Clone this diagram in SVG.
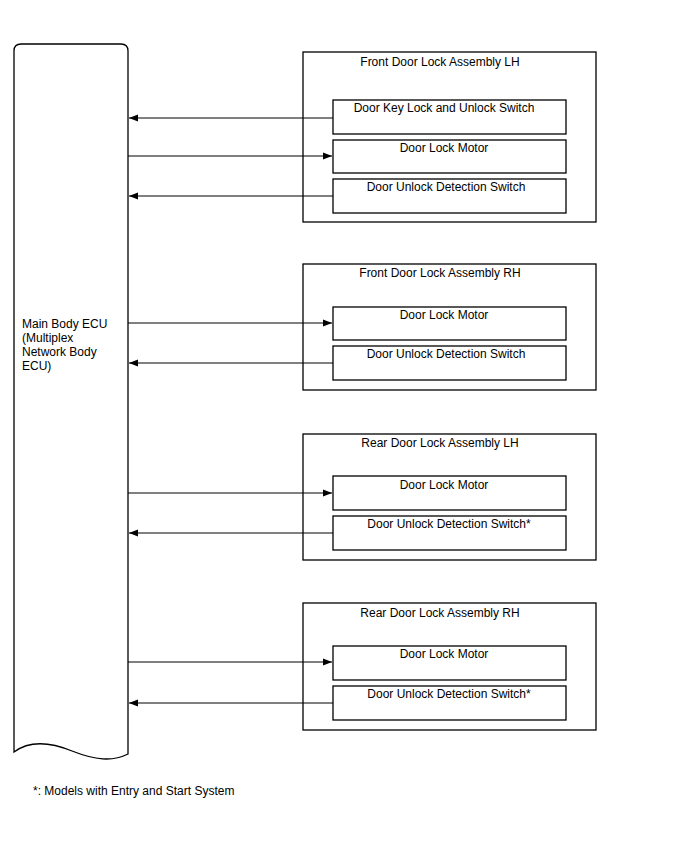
<svg xmlns="http://www.w3.org/2000/svg" width="688" height="852" viewBox="0 0 688 852">
<defs>
<marker id="ah" markerWidth="10" markerHeight="8" refX="9" refY="4" orient="auto" markerUnits="userSpaceOnUse">
<path d="M0,0.5 L9,4 L0,7.5 Z" fill="#000"/>
</marker>
<style>
.box{fill:#fff;stroke:#000;stroke-width:1.3}
.t{font-family:"Liberation Sans",Arial,sans-serif;font-size:12px;fill:#000}
.c{text-anchor:middle}
.ln{stroke:#000;stroke-width:1;fill:none}
</style>
</defs>
<rect width="688" height="852" fill="#fff"/>
<g id="ecu">
<path class="box" d="M14,752 L14,51 Q14,44 21,44 L121,44 Q128,44 128,51 L128,754 C112,762 95,760 72,751 C50,742 30,740 14,752 Z"/>
<text class="t" x="22" y="328">Main Body ECU</text>
<text class="t" x="22" y="342">(Multiplex</text>
<text class="t" x="22" y="356">Network Body</text>
<text class="t" x="22" y="370">ECU)</text>
</g>
<g id="front-lh">
<rect class="box" x="303" y="52" width="293" height="170"/>
<text class="t c" x="440" y="66">Front Door Lock Assembly LH</text>
<rect class="box" x="333" y="100" width="233" height="34"/>
<text class="t c" x="444" y="112">Door Key Lock and Unlock Switch</text>
<rect class="box" x="333" y="140" width="233" height="33"/>
<text class="t c" x="444" y="152">Door Lock Motor</text>
<rect class="box" x="333" y="179" width="233" height="34"/>
<text class="t c" x="446" y="191">Door Unlock Detection Switch</text>
</g>
<g id="front-rh">
<rect class="box" x="303" y="264" width="293" height="126"/>
<text class="t c" x="440" y="277">Front Door Lock Assembly RH</text>
<rect class="box" x="333" y="307" width="233" height="33"/>
<text class="t c" x="444" y="319">Door Lock Motor</text>
<rect class="box" x="333" y="346" width="233" height="34"/>
<text class="t c" x="446" y="358">Door Unlock Detection Switch</text>
</g>
<g id="rear-lh">
<rect class="box" x="303" y="434" width="293" height="126"/>
<text class="t c" x="440" y="447">Rear Door Lock Assembly LH</text>
<rect class="box" x="333" y="476" width="233" height="34"/>
<text class="t c" x="444" y="489">Door Lock Motor</text>
<rect class="box" x="333" y="516" width="233" height="34"/>
<text class="t c" x="449" y="528">Door Unlock Detection Switch*</text>
</g>
<g id="rear-rh">
<rect class="box" x="303" y="603" width="293" height="127"/>
<text class="t c" x="440" y="617">Rear Door Lock Assembly RH</text>
<rect class="box" x="333" y="646" width="233" height="34"/>
<text class="t c" x="444" y="658">Door Lock Motor</text>
<rect class="box" x="333" y="686" width="233" height="34"/>
<text class="t c" x="449" y="698">Door Unlock Detection Switch*</text>
</g>
<g id="connectors">
<line class="ln" x1="333" y1="118" x2="129" y2="118" marker-end="url(#ah)"/>
<line class="ln" x1="128" y1="156" x2="332" y2="156" marker-end="url(#ah)"/>
<line class="ln" x1="333" y1="196" x2="129" y2="196" marker-end="url(#ah)"/>
<line class="ln" x1="128" y1="323" x2="332" y2="323" marker-end="url(#ah)"/>
<line class="ln" x1="333" y1="363" x2="129" y2="363" marker-end="url(#ah)"/>
<line class="ln" x1="128" y1="493" x2="332" y2="493" marker-end="url(#ah)"/>
<line class="ln" x1="333" y1="533" x2="129" y2="533" marker-end="url(#ah)"/>
<line class="ln" x1="128" y1="662" x2="332" y2="662" marker-end="url(#ah)"/>
<line class="ln" x1="333" y1="703" x2="129" y2="703" marker-end="url(#ah)"/>
</g>
<text class="t" x="33" y="795">*: Models with Entry and Start System</text>
</svg>
